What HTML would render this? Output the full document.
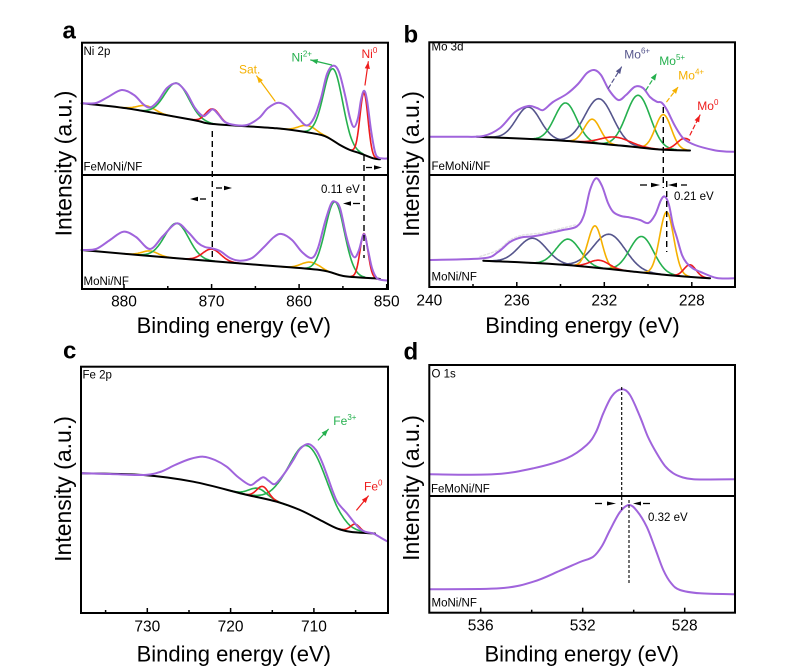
<!DOCTYPE html>
<html><head><meta charset="utf-8">
<style>
html,body{margin:0;padding:0;background:#fff;}
svg{display:block;font-family:"Liberation Sans",Arial,sans-serif;}
</style></head>
<body>
<svg id="s" width="800" height="672" viewBox="0 0 800 672" xmlns="http://www.w3.org/2000/svg">
<rect x="0" y="0" width="800" height="672" fill="#fff"/>
<g id="curves"></g>

<!-- frames -->
<g fill="none" stroke="#000" stroke-width="2">
  <rect x="82" y="42.7" width="306" height="246.3"/>
  <line x1="82" y1="175" x2="388" y2="175"/>
  <rect x="429.3" y="42.3" width="305.7" height="244.7"/>
  <line x1="429.3" y1="175" x2="735" y2="175"/>
  <rect x="81" y="366.7" width="307" height="246.3"/>
  <rect x="429.3" y="365" width="305.7" height="247.7"/>
  <line x1="429.3" y1="496" x2="735" y2="496"/>
</g>

<!-- ticks -->
<g stroke="#000" stroke-width="1.5">
  <line x1="124" y1="289" x2="124" y2="284"/><line x1="211.6" y1="289" x2="211.6" y2="284"/><line x1="299.1" y1="289" x2="299.1" y2="284"/><line x1="386.7" y1="289" x2="386.7" y2="284"/>
  <line x1="167.8" y1="289" x2="167.8" y2="286"/><line x1="255.4" y1="289" x2="255.4" y2="286"/><line x1="342.9" y1="289" x2="342.9" y2="286"/>
  <line x1="516.8" y1="287" x2="516.8" y2="282"/><line x1="604.3" y1="287" x2="604.3" y2="282"/><line x1="691.8" y1="287" x2="691.8" y2="282"/>
  <line x1="473" y1="287" x2="473" y2="284"/><line x1="560.5" y1="287" x2="560.5" y2="284"/><line x1="648" y1="287" x2="648" y2="284"/>
  <line x1="147.3" y1="613" x2="147.3" y2="608"/><line x1="230.6" y1="613" x2="230.6" y2="608"/><line x1="313.9" y1="613" x2="313.9" y2="608"/>
  <line x1="105.6" y1="613" x2="105.6" y2="610"/><line x1="189" y1="613" x2="189" y2="610"/><line x1="272.3" y1="613" x2="272.3" y2="610"/><line x1="355.6" y1="613" x2="355.6" y2="610"/>
  <line x1="480.7" y1="612.7" x2="480.7" y2="607.7"/><line x1="582.7" y1="612.7" x2="582.7" y2="607.7"/><line x1="684.7" y1="612.7" x2="684.7" y2="607.7"/>
  <line x1="531.7" y1="612.7" x2="531.7" y2="609.7"/><line x1="633.7" y1="612.7" x2="633.7" y2="609.7"/>
</g>

<!-- dashed guide lines -->
<g stroke="#000" stroke-width="1.4" fill="none" stroke-dasharray="6,4">
  <line x1="212.3" y1="131" x2="212.3" y2="260"/>
  <line x1="364" y1="155" x2="364" y2="258"/>
  <line x1="663.3" y1="107" x2="663.3" y2="188"/>
  <line x1="666.7" y1="181" x2="666.7" y2="252"/>
</g>
<g stroke="#000" stroke-width="1.1" fill="none" stroke-dasharray="3,2">
  <line x1="621.7" y1="387" x2="621.7" y2="510"/>
  <line x1="629" y1="500" x2="629" y2="584"/>
</g>

<!-- shift arrows -->
<g stroke="#000" stroke-width="1.3" fill="#000">
  <line x1="366" y1="167.5" x2="372" y2="167.5"/><polygon points="374,165.3 382,167.5 374,169.7" stroke="none"/>
  <line x1="216" y1="188" x2="222" y2="188"/><polygon points="224,185.8 232,188 224,190.2" stroke="none"/>
  <polygon points="190,199 198,196.8 198,201.2" stroke="none"/><line x1="200" y1="199" x2="206" y2="199"/>
  <polygon points="343,203.5 351,201.3 351,205.7" stroke="none"/><line x1="353" y1="203.5" x2="360" y2="203.5"/>
  <line x1="640" y1="185" x2="647" y2="185"/><polygon points="651,182.8 660,185 651,187.2" stroke="none"/>
  <polygon points="668,185 677,182.8 677,187.2" stroke="none"/><line x1="681" y1="185" x2="687" y2="185"/>
  <line x1="595" y1="503.5" x2="602" y2="503.5"/><polygon points="607,501.5 616,503.5 607,505.5" stroke="none"/>
  <polygon points="633,503.5 641,501.5 641,505.5" stroke="none"/><line x1="643" y1="503.5" x2="650" y2="503.5"/>
</g>

<!-- panel letters -->
<g font-weight="bold" font-size="24" fill="#000">
  <text x="62.5" y="38.3">a</text>
  <text x="403.5" y="42.5">b</text>
  <text x="63" y="358.3">c</text>
  <text x="403.5" y="359.3">d</text>
</g>

<!-- inner labels -->
<g font-size="11.5" fill="#000">
  <text x="83.5" y="55">Ni 2p</text>
  <text x="83.5" y="170.5">FeMoNi/NF</text>
  <text x="83.5" y="285">MoNi/NF</text>
  <text x="431.5" y="50.5">Mo 3d</text>
  <text x="431.5" y="170">FeMoNi/NF</text>
  <text x="431.5" y="280.5">MoNi/NF</text>
  <text x="82.5" y="378.5">Fe 2p</text>
  <text x="431.5" y="377.5">O 1s</text>
  <text x="431" y="492.5">FeMoNi/NF</text>
  <text x="431.5" y="606.5">MoNi/NF</text>
  <text x="321" y="193">0.11 eV</text>
  <text x="674" y="200">0.21 eV</text>
  <text x="648" y="521">0.32 eV</text>
</g>

<!-- species labels -->
<g font-size="12">
  <text x="239" y="73.5" fill="#f5b000">Sat.</text>
  <text x="291.5" y="61.5" fill="#25b04e">Ni<tspan dy="-5" font-size="8">2+</tspan></text>
  <text x="361.5" y="58" fill="#ee1c1c">Ni<tspan dy="-5" font-size="8">0</tspan></text>
  <text x="624.3" y="58.3" fill="#55558c">Mo<tspan dy="-5" font-size="8">6+</tspan></text>
  <text x="659.3" y="65" fill="#25b04e">Mo<tspan dy="-5" font-size="8">5+</tspan></text>
  <text x="678.3" y="79.3" fill="#f5b000">Mo<tspan dy="-5" font-size="8">4+</tspan></text>
  <text x="697.3" y="110" fill="#ee1c1c">Mo<tspan dy="-5" font-size="8">0</tspan></text>
  <text x="333.3" y="425" fill="#25b04e">Fe<tspan dy="-5" font-size="8">3+</tspan></text>
  <text x="364" y="490.7" fill="#ee1c1c">Fe<tspan dy="-5" font-size="8">0</tspan></text>
</g>

<!-- tick labels -->
<g font-size="15.5" fill="#000" text-anchor="middle">
  <text x="124" y="306.5">880</text><text x="211.6" y="306.5">870</text><text x="299.1" y="306.5">860</text><text x="386.7" y="306.5">850</text>
  <text x="429.3" y="305.5">240</text><text x="516.8" y="305.5">236</text><text x="604.3" y="305.5">232</text><text x="691.8" y="305.5">228</text>
  <text x="147.3" y="631.5">730</text><text x="230.6" y="631.5">720</text><text x="313.9" y="631.5">710</text>
  <text x="480.7" y="630.5">536</text><text x="582.7" y="630.5">532</text><text x="684.7" y="630.5">528</text>
</g>

<!-- axis titles -->
<g font-size="22" fill="#000" text-anchor="middle">
  <text x="233.8" y="333">Binding energy (eV)</text>
  <text x="582.5" y="333">Binding energy (eV)</text>
  <text x="233.8" y="661.7">Binding energy (eV)</text>
  <text x="581.7" y="661.7">Binding energy (eV)</text>
</g>
<g font-size="23" fill="#000" text-anchor="middle">
  <text transform="translate(71.7,163.5) rotate(-90)">Intensity (a.u.)</text>
  <text transform="translate(419,164) rotate(-90)">Intensity (a.u.)</text>
  <text transform="translate(71,489) rotate(-90)">Intensity (a.u.)</text>
  <text transform="translate(419,488) rotate(-90)">Intensity (a.u.)</text>
</g>
</svg>
<script>
(function(){
const NS='http://www.w3.org/2000/svg';
const g=document.getElementById('curves');
const P='#a064dc',G='#25b04e',O='#f5b000',R='#ee1c1c',S='#55558c',K='#000';
function path(d,col,w,dash){const p=document.createElementNS(NS,'path');p.setAttribute('d',d);p.setAttribute('fill','none');p.setAttribute('stroke',col);p.setAttribute('stroke-width',w||1.6);p.setAttribute('stroke-linejoin','round');p.setAttribute('stroke-linecap','round');if(dash)p.setAttribute('stroke-dasharray',dash);g.appendChild(p);}
function cr(pts){let d='M'+pts[0][0]+','+pts[0][1];for(let i=0;i<pts.length-1;i++){const p0=pts[i-1]||pts[i],p1=pts[i],p2=pts[i+1],p3=pts[i+2]||p2;const c1x=p1[0]+(p2[0]-p0[0])/6,c1y=p1[1]+(p2[1]-p0[1])/6;const c2x=p2[0]-(p3[0]-p1[0])/6,c2y=p2[1]-(p3[1]-p1[1])/6;d+=' C'+c1x.toFixed(2)+','+c1y.toFixed(2)+' '+c2x.toFixed(2)+','+c2y.toFixed(2)+' '+p2[0]+','+p2[1];}return d;}
function lin(b,x){if(x<=b[0][0])return b[0][1];for(let i=0;i<b.length-1;i++){if(x<=b[i+1][0]){const t=(x-b[i][0])/(b[i+1][0]-b[i][0]);return b[i][1]+t*(b[i+1][1]-b[i][1]);}}return b[b.length-1][1];}
function comp(b,cx,h,s,col){const x0=Math.max(b[0][0],cx-3.2*s),x1=Math.min(b[b.length-1][0],cx+3.2*s);let d='';for(let x=x0;x<=x1+0.01;x+=0.7){const y=lin(b,x)-h*Math.exp(-(x-cx)*(x-cx)/(2*s*s));d+=(d?'L':'M')+x.toFixed(1)+','+y.toFixed(1);}path(d,col,1.6);}
function arrow(x1,y1,x2,y2,col,dash){path('M'+x1+','+y1+' L'+x2+','+y2,col,1.2,dash);const a=Math.atan2(y2-y1,x2-x1),L=7,W=2.6;const bx=x2-L*Math.cos(a),by=y2-L*Math.sin(a);const px=-Math.sin(a)*W,py=Math.cos(a)*W;const t=document.createElementNS(NS,'polygon');t.setAttribute('points',x2+','+y2+' '+(bx+px)+','+(by+py)+' '+(bx-px)+','+(by-py));t.setAttribute('fill',col);g.appendChild(t);}

/* ---------- Panel a top ---------- */
const aTb=[[81.7,103.3],[126.7,108.3],[193.3,120],[213,124],[276.7,128.3],[313,133.3],[326.7,137],[340,145],[350,150],[360,153.3],[373.3,158.3],[380,159.3]];
comp(aTb,146,6,9,O);comp(aTb,176.7,34,12,G);comp(aTb,212.7,15,7,R);
comp(aTb,307,7,9,O);comp(aTb,333.3,72,9.5,G);comp(aTb,364,62,4,R);
path(cr(aTb),K,2);
path(cr([[81.7,103.3],[96,103],[108,97],[121.7,90],[134,95],[143,104],[150,107.5],[158,101],[167,88],[176.7,83.3],[186,92],[195,108],[203,116],[208,113],[212.7,109.3],[218,114],[225,122],[235,125],[247,125],[259,118],[268,108],[278.3,102.7],[288,107],[298,118],[306.7,125.5],[314,118],[321,98],[327,74],[333.3,65.7],[339,72],[345,95],[350,118],[354,127],[358,118],[361,100],[364,90.7],[367,100],[371,130],[375,152],[378.3,157.5],[383,158.5],[388,158.5]]),P,2);

/* ---------- Panel a bottom ---------- */
const aBb=[[81.7,250],[176.7,258.3],[260,265],[320,270],[343.3,276],[373.3,278.3],[380,279]];
comp(aBb,150,5,8,O);comp(aBb,176.7,35,12,G);comp(aBb,211.7,12,9,R);
comp(aBb,310,7,9,O);comp(aBb,335,72,9.5,G);comp(aBb,364,44,4,R);
path(cr(aBb),K,2);
path(cr([[81.7,250],[96,249],[110,240],[123.3,231.7],[136,237],[150,249],[163,236],[176.7,223.3],[188,232],[198,243],[205,247],[211.7,248.3],[220,251],[230,258],[240,260.7],[252,258],[264,247],[274,237],[281.7,234],[292,240],[302,252],[311.7,258],[318,248],[325,222],[331,204],[335,201.7],[340,208],[346,235],[351,252],[355,257.3],[359,250],[364,234],[368,250],[372,268],[376.7,278],[382,280],[388,280.5]]),P,2);

arrow(275,101,256.7,76,O);
arrow(331.7,65,310.7,60,G);
arrow(365,85,368.3,61.7,R);

/* ---------- Panel b top ---------- */
const bTb=[[476.7,136.7],[560,140.5],[620,145.5],[660,149.5],[690,150.5]];
comp(bTb,528.3,32,12,S);comp(bTb,599,45,14,S);
comp(bTb,565.7,38,11,G);comp(bTb,638.3,52,12,G);
comp(bTb,592.3,24,8,O);comp(bTb,663.3,35,8,O);
comp(bTb,615,8,15,R);comp(bTb,685,12,8,R);
path(cr(bTb),K,2);
path(cr([[430,136.7],[460,136.7],[483.3,136],[500,128],[515,112],[528.3,106],[537,108],[543.3,110],[553,102],[566.7,94],[578,84],[587,73],[594.3,70],[601,75],[609,90],[618.3,100],[626,95],[635,86.7],[643,88],[650,97],[656.7,101.7],[661.7,102.7],[667,110],[675,126],[683.3,138.3],[695,145],[713.3,150],[725,151.5],[735,151.7]]),P,2);

/* ---------- Panel b bottom ---------- */
const bBb=[[483.3,260.7],[566.7,265],[666.7,275],[710,278.3]];
path(cr([[480,256.5],[498,250],[510,240],[521,235.5],[531.7,234],[541,233],[550,231],[563,228],[576.7,224.5]]),'#e2e2e2',1.4,'2,2');
comp(bBb,532.7,25,14,S);comp(bBb,609.3,35,16,S);
comp(bBb,568.3,26,12,G);comp(bBb,641.7,36,12,G);
comp(bBb,595,42,7,O);comp(bBb,666.7,63,7,O);
comp(bBb,599.3,8,10,R);comp(bBb,690,12,6,R);
path(cr(bBb),K,2);
path(cr([[430,260],[483.3,258.3],[498,252],[510,242],[521,237.5],[531.7,236.5],[541,235],[550,233],[563,230],[576.7,226.5],[584,215],[590,190],[596,178.3],[602,186],[608,203],[613.3,212],[621,216],[630,217.5],[640,220],[648.3,223],[655,215],[661,200],[665,196.7],[669,205],[673,225],[676.7,237],[682,255],[686.7,263],[693,268.5],[700,271.7],[716.7,278],[735,278.3]]),P,2);

arrow(608.3,88.3,621.7,66.7,S,'4,3');
arrow(646,90,656.7,73.3,G,'4,3');
arrow(666.7,101.7,678.3,86.7,O,'4,3');
arrow(690,135,700,115,R,'4,3');

/* ---------- Panel c ---------- */
const cb=[[81.7,473.3],[143.3,475],[193.3,481.7],[243.3,494],[276.7,501.7],[300,510],[320,520],[336.7,528.3],[350,531.7],[370,533.3],[375,533.5]];
comp(cb,258,9,9,G);comp(cb,308.3,68,19,G);
comp(cb,262.7,12,6,R);comp(cb,355,8,5,R);
path(cr(cb),K,2);
path(cr([[81.7,473.3],[110,474],[143.3,475],[160,472],[175,465],[190,459],[203.3,456.7],[215,460],[226.7,466.7],[238,477],[250,485],[257,481],[263.3,477.3],[269,481],[275,484],[284,474],[293.3,460],[300,449],[308.3,444],[316,450],[322,462],[328,478],[333,492],[338,503],[346.7,513],[353,521],[360,529],[366,532],[373.3,533.5],[378,536],[383,539],[388,541.7]]),P,2);
arrow(318.3,440,328.3,429.3,G);
arrow(356.7,510,368.3,496,R);

/* ---------- Panel d ---------- */
path(cr([[430,474.3],[493.3,474.3],[533.3,468.3],[566.7,458.3],[586.7,445],[596,432],[603.3,413.3],[612,396],[621.7,389.3],[630,395],[640,416.7],[648,437],[656.7,453.3],[665,466],[673.3,473.3],[683,477.5],[693.3,479.3],[710,479.5],[735,479.3]]),P,2);
path(cr([[430,589.3],[500,588.3],[533.3,581.7],[560,570.7],[580,562],[593.3,556.7],[602,546],[610,530],[620,512],[629,505],[637,511],[646.7,526.7],[655,548],[663.3,570],[671,583],[680,590],[700,593.3],[735,594.3]]),P,2);
})();
</script>
</body></html>
